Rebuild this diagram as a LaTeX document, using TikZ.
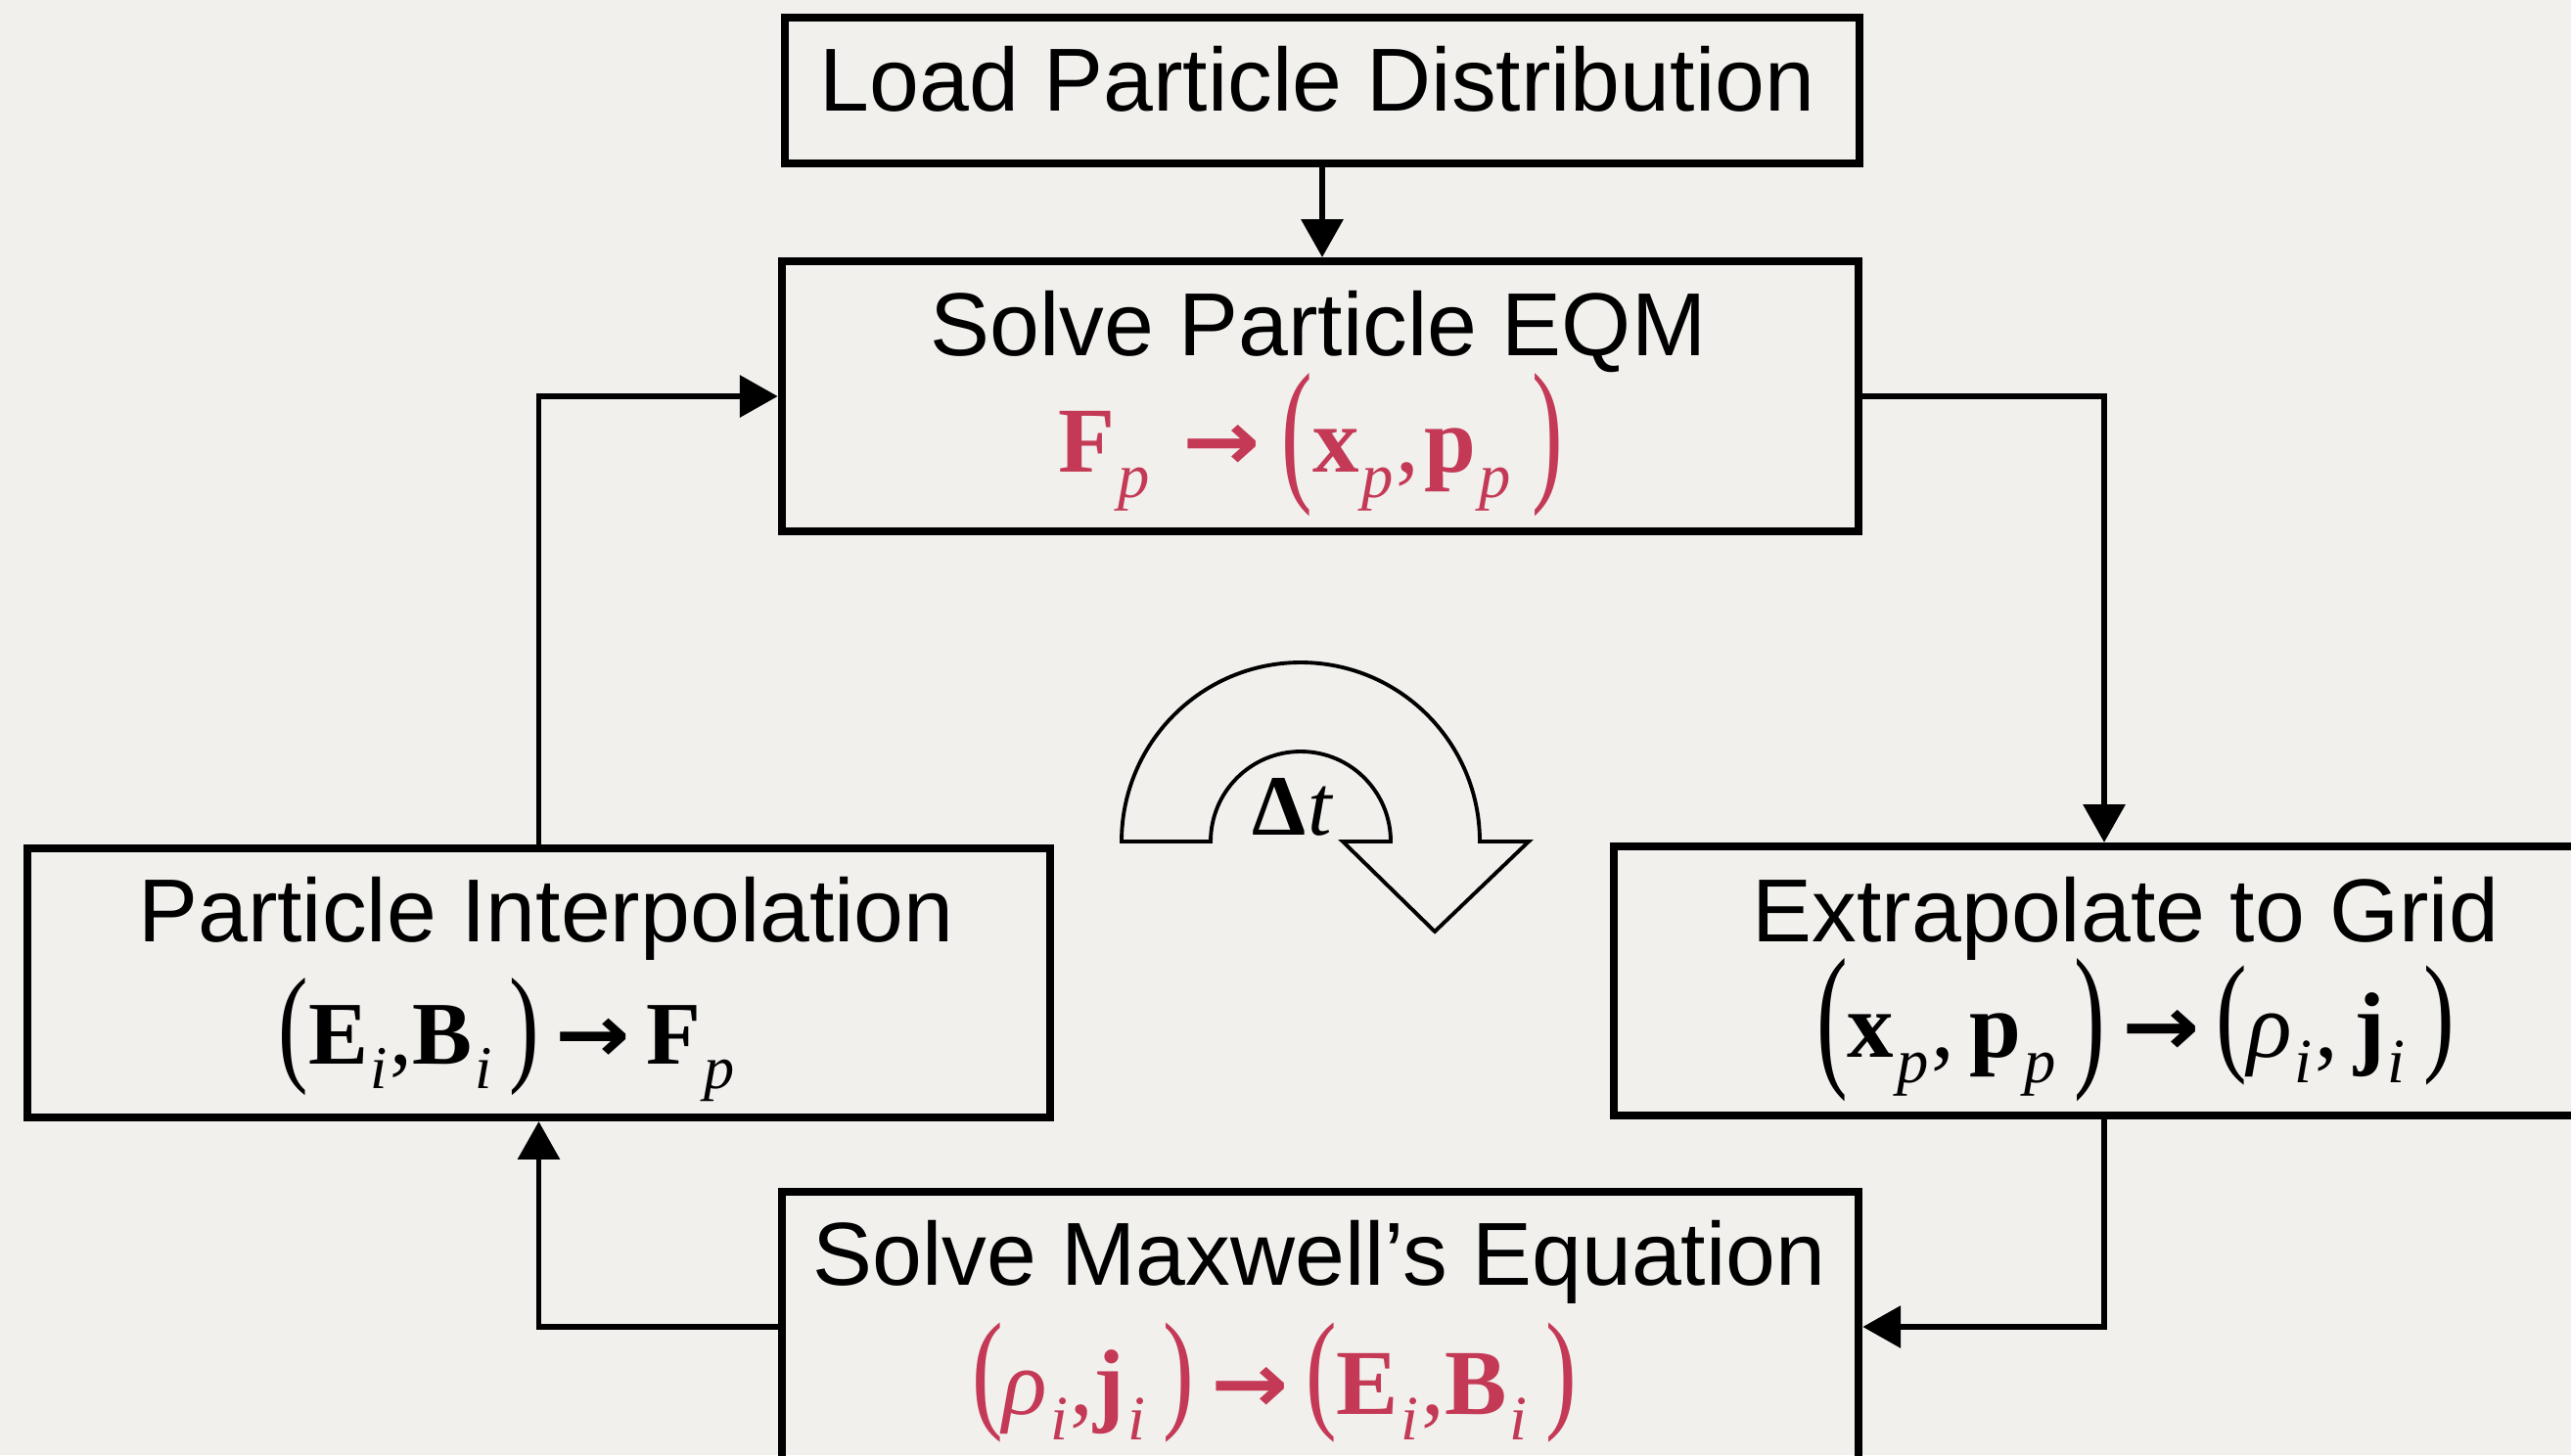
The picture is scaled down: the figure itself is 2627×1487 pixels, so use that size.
\documentclass[tikz,border=0pt]{standalone}
\usepackage{fontspec}
\usepackage{graphicx}
\setmainfont{Liberation Serif}
\setsansfont{Liberation Sans}
\newfontfamily\arrowfont{DejaVu Sans}
\usetikzlibrary{arrows.meta}
\definecolor{paper}{RGB}{241,240,237}
\definecolor{eqred}{RGB}{196,58,86}
\newcommand\vsub[2]{\textbf{#1}\kern0.03em\raisebox{-0.28em}{\scalebox{0.68}{\itshape #2}}\kern0.03em}
\newcommand\gsub[2]{{\itshape #1}\kern0.03em\raisebox{-0.28em}{\scalebox{0.68}{\itshape #2}}\kern0.03em}
\newcommand\lpar[2]{\raisebox{-#2em}{\scalebox{1}[#1]{(}}}
\newcommand\rpar[2]{\raisebox{-#2em}{\scalebox{1}[#1]{)}}}
\newcommand\rarr{\hspace{0.18em}\raisebox{0.02em}{\scalebox{1}[0.9]{\arrowfont\bfseries →}}\hspace{0.18em}}
\begin{document}
\begin{tikzpicture}[x=0.01cm,y=0.01cm,
  box/.style={draw=black,line width=2.3pt,inner sep=0pt,fill=none},
  title/.style={anchor=base,inner sep=0pt,font=\sffamily\fontsize{26}{30}\selectfont},
  formula/.style={anchor=base,inner sep=0pt,font=\fontsize{27}{30}\selectfont},
  conn/.style={line width=1.5pt,-{Triangle[width=12pt,length=11pt]}},
  turn/.style={line width=1.1pt,draw=black,fill=none,line join=miter}]
\fill[paper] (0,0) rectangle (2627,-1487);
\useasboundingbox (0,0) rectangle (2627,-1487);
\clip (0,0) rectangle (2627,-1487);

% boxes
\node[box,minimum width=10.98cm,minimum height=1.49cm] (b1) at (1351,-92.5) {};
\node[box,minimum width=11.00cm,minimum height=2.76cm] (b2) at (1349,-405) {};
\node[box,minimum width=10.45cm,minimum height=2.75cm] (b3) at (550.5,-1004.5) {};
\node[box,minimum width=10.02cm,minimum height=2.75cm] (b4) at (2150,-1002.5) {};
\node[box,minimum width=11.00cm,minimum height=2.76cm] (b5) at (1349,-1356) {};

% texts
\node[title] (t1) at (1346,-113) {Load Particle Distribution};
\node[title] (t2) at (1347,-363) {Solve Particle EQM};
\node[formula,text=eqred] (f2) at (1339,-482)
  {\vsub{F}{p}\hspace{0.15em}\rarr\hspace{0.05em}\lpar{1.7}{0.12}\vsub{x}{p},\kern0.05em\vsub{p}{p}\hspace{0.2em}\rpar{1.7}{0.12}};
\node[title] (t3) at (558,-962) {Particle Interpolation};
\node[formula,font=\fontsize{26}{30}\selectfont] (f3) at (519,-1087)
  {\lpar{1.45}{0.05}\vsub{E}{i},\vsub{B}{i}\,\rpar{1.45}{0.05}\rarr\vsub{F}{p}};
\node[title] (t4) at (2172,-962) {Extrapolate to Grid};
\node[formula] (f4) at (2182,-1080)
  {\lpar{1.7}{0.12}\vsub{x}{p},\,\vsub{p}{p}\,\rpar{1.7}{0.12}\rarr\lpar{1.42}{0}\gsub{ρ}{i},\,\vsub{j}{i}\,\rpar{1.42}{0}};
\node[title] (t5) at (1348,-1313) {Solve Maxwell’s Equation};
\node[formula,text=eqred] (f5) at (1302,-1445)
  {\lpar{1.42}{0}\gsub{ρ}{i},\vsub{j}{i}\,\rpar{1.42}{0}\rarr\lpar{1.42}{0}\vsub{E}{i},\vsub{B}{i}\,\rpar{1.42}{0}};

% connectors
\draw[conn] (b1.south) -- (b1.south |- b2.north);
\draw[conn] (b2.east) -| (b4.north);
\draw[conn] (b4.south) |- (b5.east);
\draw[conn] (b5.west) -| (b3.south);
\draw[conn] (b3.north) |- (b2.west);

% time-step turning arrow
\draw[turn] (1146,-860) arc[start angle=180,end angle=0,radius=183]
  -- (1562,-860) -- (1466,-952) -- (1372,-860) -- (1421,-860)
  arc[start angle=0,end angle=180,radius=92] -- cycle;
\node[anchor=base,inner sep=0pt,font=\fontsize{25}{28}\selectfont] (dt) at (1321,-853) {\textbf{Δ}\kern0.02em\textit{t}};
\end{tikzpicture}
\end{document}
